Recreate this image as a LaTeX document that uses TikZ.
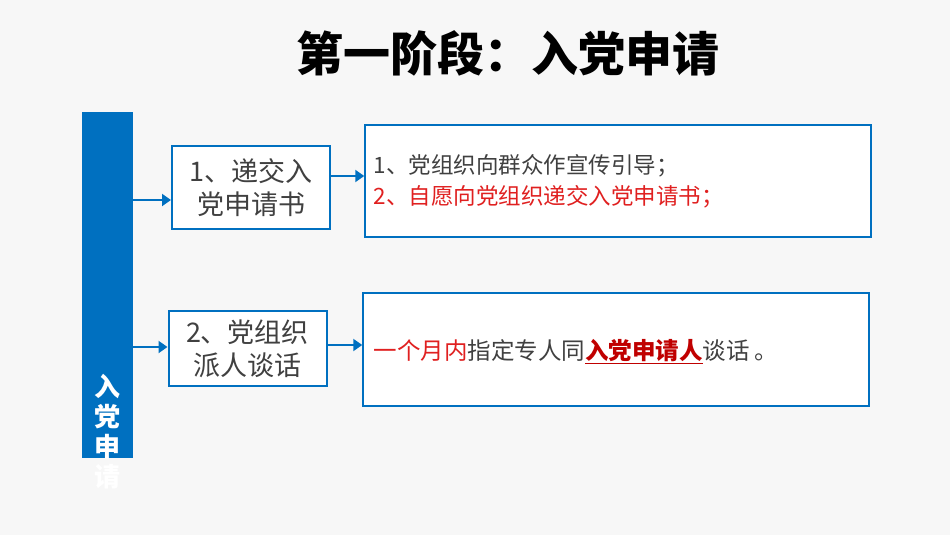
\documentclass[tikz,border=0pt]{standalone}
\usepackage{fontspec}
\setmainfont{Noto Sans CJK SC}
\usetikzlibrary{arrows.meta}
\definecolor{blu}{HTML}{0070C0}
\definecolor{txt}{HTML}{404040}
\definecolor{rd}{HTML}{E02020}
\definecolor{drd}{HTML}{C00000}
\begin{document}
\begin{tikzpicture}[x=1pt,y=-1pt,
  lbox/.style={draw=blu,line width=2pt,fill=white,minimum width=158pt,minimum height=80pt,align=center,text=txt,font=\fontsize{27}{33}\selectfont},
  rbox/.style={draw=blu,line width=1.5pt,fill=white,minimum width=506pt,minimum height=112pt},
  arr/.style={blu,line width=2pt,-{Triangle[length=9pt,width=12pt]}}]
\fill[white!97!black] (0,0) rectangle (950,535);
\useasboundingbox (0,0) rectangle (950,535);
\node (title) at (508,53) {\fontsize{47}{52}\selectfont\bfseries 第一阶段：入党申请};
\fill[blu] (82,112) rectangle (133,458);
\node[inner sep=0,text=white,align=center,font=\fontsize{26}{30}\selectfont\bfseries] (bar) at (107,432) {入\\党\\申\\请};
\coordinate (b1) at (133,200);
\coordinate (b2) at (133,347);
\node[lbox,minimum height=83pt] (l1) at (251,187.5) {1、递交入\\党申请书};
\node[lbox,minimum height=75pt] (l2) at (247.5,348.5) {2、党组织\\派人谈话};
\node[rbox] (r1) at (618,181) {};
\node[rbox,minimum height=113pt] (r2) at (616,349.5) {};
\node[anchor=west,align=left,font=\fontsize{22.5}{31}\selectfont] at (370,181) {\textcolor{txt}{1、党组织向群众作宣传引导；}\\\textcolor{rd}{2、自愿向党组织递交入党申请书；}};
\node[anchor=west,font=\fontsize{23.5}{26}\selectfont] at (370,352) {\textcolor{rd}{一个月内}\textcolor{txt}{指定专人同}\textcolor{drd}{\bfseries\underline{入党申请人}}\textcolor{txt}{谈话 。}};
\draw[arr] (b1) -- (l1.west |- b1);
\draw[arr] (b2) -- (l2.west |- b2);
\draw[arr] (l1.east |- 0,176) -- (r1.west |- 0,176);
\draw[arr] (l2.east |- 0,345) -- (r2.west |- 0,345);
\end{tikzpicture}
\end{document}
